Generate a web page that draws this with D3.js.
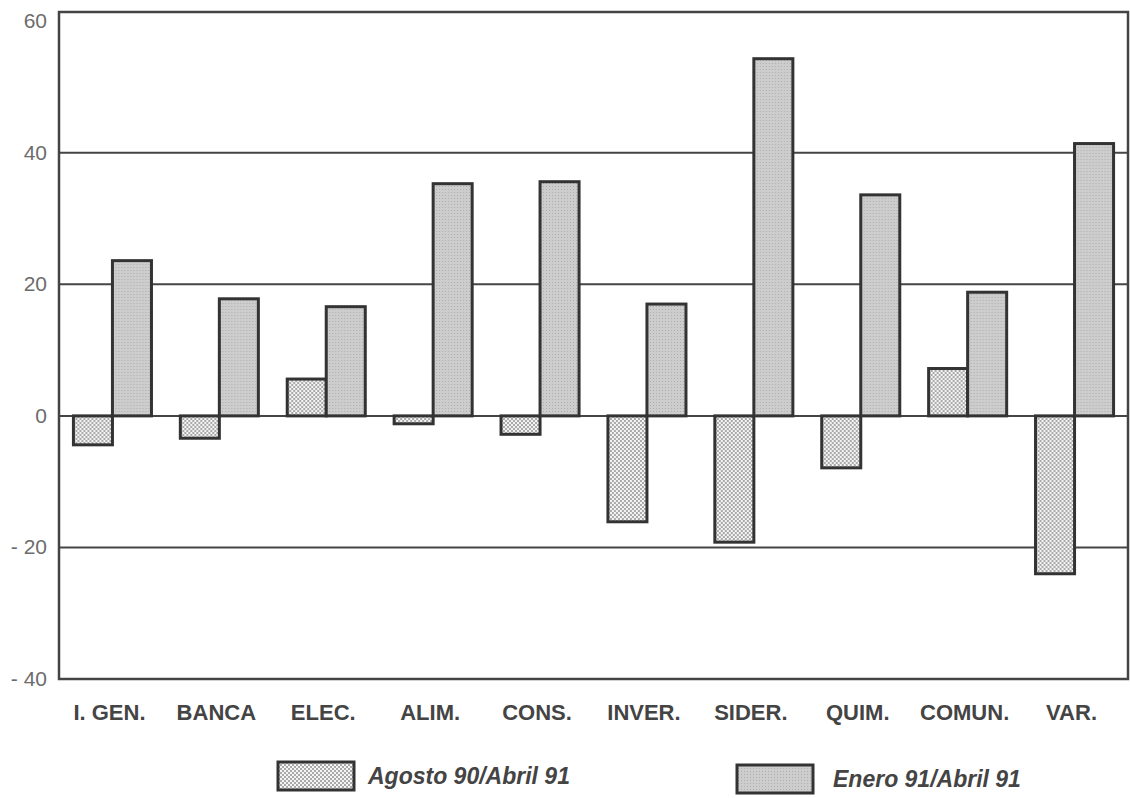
<!DOCTYPE html>
<html>
<head>
<meta charset="utf-8">
<script src="https://cdn.jsdelivr.net/npm/d3@7"></script>
<style>
  html, body { margin: 0; padding: 0; background: #fff; }
  svg { display: block; }
</style>
</head>
<body>
<svg id="chart" width="1130" height="798"></svg>
<script>
const categories = ["I. GEN.", "BANCA", "ELEC.", "ALIM.", "CONS.", "INVER.", "SIDER.", "QUIM.", "COMUN.", "VAR."];
const seriesNames = ["Agosto 90/Abril 91", "Enero 91/Abril 91"];
const agosto = [-4.4, -3.4, 5.6, -1.2, -2.8, -16.1, -19.2, -7.9, 7.2, -24.0];
const enero = [23.6, 17.8, 16.6, 35.3, 35.6, 17.0, 54.3, 33.6, 18.8, 41.4];
const yTicks = [60, 40, 20, 0, -20, -40];
const yTickLabels = ["60", "40", "20", "0", "- 20", "- 40"];
const gridValues = [40, 20, 0, -20];

(function () {
const svg = d3.select("#chart");
const mLeft = 59, mRight = 1128, mTop = 12, mBottom = 679;

const defs = svg.append("defs");
// dotted pattern for Agosto
const p1 = defs.append("pattern").attr("id", "dots").attr("patternUnits", "userSpaceOnUse")
  .attr("width", 4).attr("height", 4);
p1.append("rect").attr("width", 4).attr("height", 4).attr("fill", "#f4f4f4");
p1.append("circle").attr("cx", 1).attr("cy", 1).attr("r", 0.95).attr("fill", "#8a8a8a");
p1.append("circle").attr("cx", 3).attr("cy", 3).attr("r", 0.95).attr("fill", "#8a8a8a");
// fine gray pattern for Enero
const p2 = defs.append("pattern").attr("id", "gray").attr("patternUnits", "userSpaceOnUse")
  .attr("width", 3).attr("height", 3);
p2.append("rect").attr("width", 3).attr("height", 3).attr("fill", "#cdcdcd");
p2.append("rect").attr("x", 0).attr("y", 0).attr("width", 1).attr("height", 1).attr("fill", "#adadad");

const y = d3.scaleLinear().domain([-40, 61.4]).range([mBottom, mTop]);
const x0 = d3.scaleBand().domain(categories).range([mLeft, mRight]).paddingInner(0.27).paddingOuter(0.135);
const x1 = d3.scaleBand().domain(seriesNames).range([0, x0.bandwidth()]).padding(0);

// gridlines
svg.append("g").selectAll("line").data(gridValues).join("line")
  .attr("x1", mLeft).attr("x2", mRight)
  .attr("y1", d => y(d)).attr("y2", d => y(d))
  .attr("stroke", "#454545").attr("stroke-width", 2);

// frame
svg.append("rect").attr("x", mLeft).attr("y", mTop)
  .attr("width", mRight - mLeft).attr("height", mBottom - mTop)
  .attr("fill", "none").attr("stroke", "#444").attr("stroke-width", 2.5);

// y tick labels
svg.append("g").selectAll("text").data(yTicks).join("text")
  .attr("x", 47).attr("y", d => y(d) + 7)
  .attr("text-anchor", "end")
  .attr("font-family", "Liberation Sans, Arial, sans-serif")
  .attr("font-size", 21).attr("fill", "#6c6c6c")
  .text((d, i) => yTickLabels[i]);

// bars
const rows = categories.map((c, i) => ({ cat: c, vals: [agosto[i], enero[i]] }));
const fills = ["url(#dots)", "url(#gray)"];
const g = svg.append("g").selectAll("g").data(rows).join("g")
  .attr("transform", d => `translate(${x0(d.cat)},0)`);
g.selectAll("rect").data(d => d.vals.map((v, k) => ({ v, k }))).join("rect")
  .attr("x", d => x1(seriesNames[d.k]))
  .attr("width", x1.bandwidth())
  .attr("y", d => y(Math.max(0, d.v)))
  .attr("height", d => Math.abs(y(d.v) - y(0)))
  .attr("fill", d => fills[d.k])
  .attr("stroke", "#333").attr("stroke-width", 3);

// category labels
svg.append("g").selectAll("text").data(categories).join("text")
  .attr("x", d => x0(d) + x0.bandwidth() / 2 - 3)
  .attr("y", 720)
  .attr("text-anchor", "middle")
  .attr("font-family", "Liberation Sans, Arial, sans-serif")
  .attr("font-weight", "bold")
  .attr("font-size", 22).attr("fill", "#444")
  .text(d => d);

// legend
const legendX = [278, 737];
const legendY = [762, 765];
const lg = svg.append("g").selectAll("g").data(seriesNames).join("g");
lg.append("rect")
  .attr("x", (d, i) => legendX[i]).attr("y", (d, i) => legendY[i])
  .attr("width", 76).attr("height", 28)
  .attr("fill", (d, i) => fills[i])
  .attr("stroke", "#333").attr("stroke-width", 3);
lg.append("text")
  .attr("x", (d, i) => legendX[i] + 90 + (i === 1 ? 6 : 0))
  .attr("y", (d, i) => legendY[i] + 22)
  .attr("font-family", "Liberation Sans, Arial, sans-serif")
  .attr("font-weight", "bold").attr("font-style", "italic")
  .attr("font-size", 23).attr("fill", "#444")
  .text(d => d);
})();
</script>
</body>
</html>
